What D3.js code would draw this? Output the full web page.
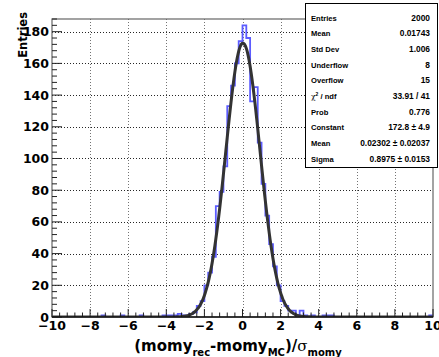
<!DOCTYPE html>
<html>
<head>
<meta charset="utf-8">
<script src="https://cdnjs.cloudflare.com/ajax/libs/d3/7.8.5/d3.min.js"></script>
<style>
    body { margin: 0; background: #fff; }
    svg { display: block; }
    .tick-label { font-family: "DejaVu Sans", sans-serif; font-weight: bold; font-size: 12.5px; fill: #000; }
    .stats text { font-family: "Liberation Sans", Arial, sans-serif; font-weight: bold; font-size: 7.6px; fill: #000; }
    .stats text.val { font-size: 8.4px; }
</style>
</head>
<body>
<div id="chart"></div>
<script>
    "use strict";

    // histogram: 100 bins from -10 to 10
    var binStart = -10;
    var binWidth = 0.2;
    var counts = [
        0, 0, 0, 0, 0, 0, 0, 0, 0, 0,
        0, 0, 0, 1, 0, 0, 0, 0, 1, 0,
        0, 0, 0, 1, 0, 0, 0, 0, 0, 1,
        1, 1, 1, 2, 1, 1, 2, 3, 7, 10,
        20, 28, 38, 70, 79, 95, 133, 146, 160, 174,
        184, 176, 136, 145, 110, 84, 64, 46, 32, 20,
        10, 7, 4, 4, 1, 4, 1, 0, 1, 0,
        0, 1, 1, 1, 0, 0, 0, 0, 0, 0,
        0, 0, 0, 0, 0, 0, 0, 0, 0, 0,
        0, 0, 0, 0, 0, 0, 0, 0, 0, 1
    ];

    // gaussian fit result: constant, mean, sigma
    var fitParams = [172.8, 0.02302, 0.8975];

    var xTicks = [-10, -8, -6, -4, -2, 0, 2, 4, 6, 8, 10];
    var yTicks = [0, 20, 40, 60, 80, 100, 120, 140, 160, 180];

    var statLabels = ["Entries", "Mean", "Std Dev", "Underflow", "Overflow", "chi2", "Prob", "Constant", "Mean", "Sigma"];
    var statValues = ["2000", "0.01743", "1.006", "8", "15", "33.91 / 41", "0.776", "172.8 \u00b1 4.9", "0.02302 \u00b1 0.02037", "0.8975 \u00b1 0.0153"];

    var width = 439, height = 357;
    var frame = { left: 52, right: 433, top: 19, bottom: 317 };

    var svg = d3.select("#chart")
        .append("svg")
        .attr("width", width)
        .attr("height", height);

    var x = d3.scaleLinear().domain([-10, 10]).range([frame.left, frame.right]);
    var y = d3.scaleLinear().domain([0, 188]).range([frame.bottom, frame.top]);

    svg.append("clipPath").attr("id", "clip")
        .append("rect")
        .attr("x", frame.left).attr("y", frame.top)
        .attr("width", frame.right - frame.left)
        .attr("height", frame.bottom - frame.top);

    // dotted grid
    var grid = svg.append("g").attr("stroke", "#000").attr("stroke-width", 1).attr("stroke-dasharray", "1,2");
    grid.selectAll(".gx")
        .data(xTicks.slice(1, -1))
        .enter().append("line")
        .attr("x1", function (d) { return Math.round(x(d)) + 0.5; })
        .attr("x2", function (d) { return Math.round(x(d)) + 0.5; })
        .attr("y1", frame.top).attr("y2", frame.bottom)
        .attr("stroke-opacity", 0.55);
    grid.selectAll(".gy")
        .data(yTicks.slice(1))
        .enter().append("line")
        .attr("y1", function (d) { return Math.round(y(d)) + 0.5; })
        .attr("y2", function (d) { return Math.round(y(d)) + 0.5; })
        .attr("x1", frame.left).attr("x2", frame.right)
        .attr("stroke-opacity", 0.85);

    // histogram outline
    var pts = [[binStart, 0]];
    counts.forEach(function (c, i) {
        var lo = binStart + i * binWidth;
        pts.push([lo, c]);
        pts.push([lo + binWidth, c]);
    });
    pts.push([binStart + counts.length * binWidth, 0]);

    var line = d3.line()
        .x(function (d) { return x(d[0]); })
        .y(function (d) { return y(d[1]); });

    svg.append("path")
        .attr("clip-path", "url(#clip)")
        .attr("d", line(pts))
        .attr("fill", "none")
        .attr("stroke", "#5c5cff")
        .attr("stroke-width", 1.8);

    // fit curve
    var gaus = function (u) {
        var z = (u - fitParams[1]) / fitParams[2];
        return fitParams[0] * Math.exp(-0.5 * z * z);
    };
    var fitPts = d3.range(-10, 10.001, 0.05).map(function (u) { return [u, gaus(u)]; });
    svg.append("path")
        .attr("clip-path", "url(#clip)")
        .attr("d", d3.line().curve(d3.curveMonotoneX)
            .x(function (d) { return x(d[0]); })
            .y(function (d) { return y(d[1]); })(fitPts))
        .attr("fill", "none")
        .attr("stroke", "#333")
        .attr("stroke-width", 3);

    // frame
    svg.append("rect")
        .attr("x", frame.left).attr("y", frame.top)
        .attr("width", frame.right - frame.left)
        .attr("height", frame.bottom - frame.top)
        .attr("fill", "none")
        .attr("stroke", "#666")
        .attr("stroke-width", 1.2);

    // axis ticks, pointing inside like ROOT
    var ax = svg.append("g").attr("stroke", "#222").attr("stroke-width", 1);
    d3.range(0, 50.5).forEach(function (i) {
        var v = -10 + i * 0.4;
        var major = i % 5 === 0;
        ax.append("line")
            .attr("x1", x(v)).attr("x2", x(v))
            .attr("y1", frame.bottom).attr("y2", frame.bottom - (major ? 8 : 4.5));
    });
    d3.range(0, 48).forEach(function (i) {
        var v = i * 4;
        var major = i % 5 === 0;
        ax.append("line")
            .attr("y1", y(v)).attr("y2", y(v))
            .attr("x1", frame.left).attr("x2", frame.left + (major ? 10 : 5));
    });
    svg.append("line")
        .attr("x1", frame.left).attr("x2", frame.right)
        .attr("y1", frame.bottom).attr("y2", frame.bottom)
        .attr("stroke", "#111").attr("stroke-width", 1.5);

    // tick labels
    svg.selectAll(".xl")
        .data(xTicks)
        .enter().append("text")
        .attr("class", "tick-label")
        .attr("x", function (d) { return x(d); })
        .attr("y", 330)
        .attr("text-anchor", "middle")
        .text(function (d) { return d < 0 ? "\u2212" + (-d) : d; });

    svg.selectAll(".yl")
        .data(yTicks)
        .enter().append("text")
        .attr("class", "tick-label")
        .attr("x", 49)
        .attr("y", function (d) { return y(d) + 4.5; })
        .attr("text-anchor", "end")
        .text(function (d) { return d; });

    // axis titles
    svg.append("text")
        .attr("transform", "translate(27,12) rotate(-90)")
        .attr("text-anchor", "end")
        .style("font-family", "DejaVu Sans, sans-serif")
        .style("font-weight", "bold")
        .style("font-size", "11.5px")
        .text("Entries");

    var xt = svg.append("text")
        .attr("x", 238)
        .attr("y", 351)
        .attr("text-anchor", "middle")
        .style("font-family", "DejaVu Sans, sans-serif")
        .style("font-weight", "bold")
        .style("font-size", "15px");
    xt.append("tspan").text("(momy");
    xt.append("tspan").attr("dy", 5).style("font-size", "10px").text("rec");
    xt.append("tspan").attr("dy", -5).text("-momy");
    xt.append("tspan").attr("dy", 5).style("font-size", "10px").text("MC");
    xt.append("tspan").attr("dy", -5).text(")/");
    xt.append("tspan").style("font-weight", "normal").style("font-family", "DejaVu Serif, serif").text("\u03c3");
    xt.append("tspan").attr("dy", 5).style("font-size", "10px").text("momy");

    // stats box
    var box = { x: 305, y: 3, w: 132, h: 164 };
    var stats = svg.append("g").attr("class", "stats");
    stats.append("rect")
        .attr("x", box.x + 0.5).attr("y", box.y + 0.5)
        .attr("width", box.w).attr("height", box.h)
        .attr("fill", "#fff")
        .attr("stroke", "#000")
        .attr("stroke-width", 1);

    var rowY = d3.scaleLinear().domain([0, 9]).range([18, 159]);
    statLabels.forEach(function (lbl, i) {
        var t = stats.append("text")
            .attr("x", 311)
            .attr("y", rowY(i) + 2.7);
        if (lbl === "chi2") {
            t.append("tspan").style("font-family", "DejaVu Serif, serif").style("font-weight", "normal").text("\u03c7");
            t.append("tspan").attr("dy", -3).style("font-size", "5px").text("2");
            t.append("tspan").attr("dy", 3).text(" / ndf");
        } else {
            t.text(lbl);
        }
        stats.append("text")
            .attr("class", "val")
            .attr("x", 430)
            .attr("y", rowY(i) + 2.8)
            .attr("text-anchor", "end")
            .text(statValues[i]);
    });
</script>
</body>
</html>
